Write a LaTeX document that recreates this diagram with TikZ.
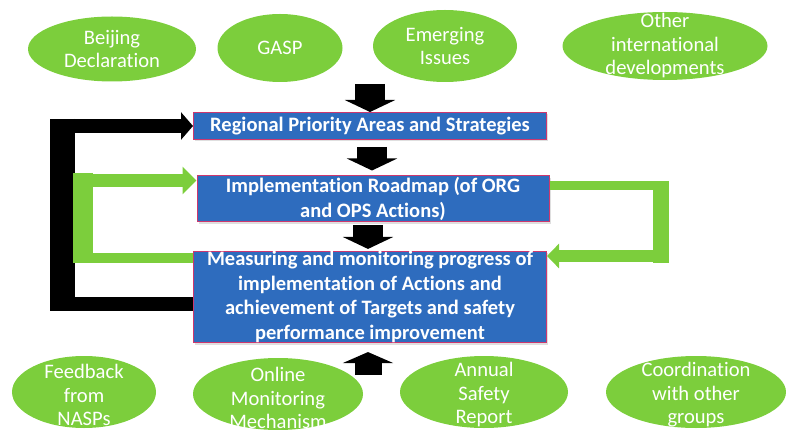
\documentclass[tikz,border=0pt]{standalone}
\usepackage{fontspec}
\setmainfont[Ligatures=NoCommon]{Carlito}
\usepackage{tikz}
\usetikzlibrary{arrows.meta,shapes,positioning,shadows}
\definecolor{sgblue}{RGB}{46,108,190}
\definecolor{sgpink}{RGB}{205,55,110}
\definecolor{sggreen}{RGB}{124,206,60}
\tikzstyle{stagebox} = [rectangle, minimum width=353pt, fill=sgblue, draw=sgpink, line width=1pt, text=white, align=center, inner sep=0pt, font=\bfseries\fontsize{20.5}{24.5}\selectfont, drop shadow={shadow xshift=1.5pt, shadow yshift=-2pt, opacity=0.25}]
\tikzstyle{inputoval} = [ellipse, fill=sggreen, inner sep=0pt]
\tikzstyle{ovaltext} = [text=white, align=center, font=\fontsize{20.6}{23.5}\selectfont]
\tikzstyle{blockdown} = [line width=30pt, -{Triangle[length=12pt,width=50pt]}, black]
\tikzstyle{fbgreen} = [draw=sggreen]
\tikzstyle{fbblack} = [draw=black]

\begin{document}
\begin{tikzpicture}[x=1pt, y=-1pt]
\useasboundingbox (0,0) rectangle (786,430);

% Inputs at the top
\node (beijing) [inputoval, minimum width=168pt, minimum height=65pt, label={[ovaltext]center:Beijing\\Declaration}] at (112,49) {};
\node (gasp) [inputoval, minimum width=125pt, minimum height=68pt, label={[ovaltext]center:GASP}] at (280,48) {};
\node (emerging) [inputoval, minimum width=144pt, minimum height=72pt, label={[ovaltext]center:Emerging\\Issues}] at (445,46) {};
\node (otherdev) [inputoval, minimum width=205pt, minimum height=68pt, label={[ovaltext]center:Other\\international\\developments}] at (665,46) {};

% The three stages
\node (priority) [stagebox, minimum height=27pt] at (370,126) {Regional Priority Areas and Strategies};
\node (roadmap) [stagebox, below of=priority, node distance=73pt, xshift=3pt, minimum width=352pt, minimum height=46pt] {Implementation Roadmap (of ORG\\and OPS Actions)};
\node (monitor) [stagebox, below of=roadmap, node distance=98pt, xshift=-3pt, minimum height=90pt] {Measuring and monitoring progress of\\implementation of Actions and\\achievement of Targets and safety\\performance improvement};

% Inputs at the bottom
\node (feedback) [inputoval, minimum width=144pt, minimum height=72pt, label={[ovaltext, yshift=-3pt]center:Feedback\\from\\NASPs}] at (84,392) {};
\node (online) [inputoval, minimum width=170pt, minimum height=72pt, label={[ovaltext, yshift=-4pt]center:Online\\Monitoring\\Mechanism}] at (278,394) {};
\node (annual) [inputoval, minimum width=168pt, minimum height=72pt, label={[ovaltext, yshift=-3pt]center:Annual\\Safety\\Report}] at (484,392) {};
\node (coord) [inputoval, minimum width=180pt, minimum height=72pt, label={[ovaltext, yshift=-3pt]center:Coordination\\with other\\groups}] at (696,392) {};

% Block arrows down the middle
\coordinate (topin) at (370,84);
\coordinate (botin) at (368,375);
\draw[blockdown] (topin) -- (priority.north);
\draw[blockdown, shorten <=7pt, shorten >=5pt] ([xshift=2pt]priority.south) -- ([xshift=-1pt]roadmap.north);
\draw[blockdown, shorten <=3pt, shorten >=2pt] ([xshift=-5pt]roadmap.south) -- ([xshift=-2pt]monitor.north);
\draw[blockdown, line width=27pt, -{Triangle[length=11pt,width=50pt]}, shorten >=9pt] (botin) -- ([xshift=-2pt]monitor.south);

% Black loop back to the priorities
\coordinate (bl) at (50,0);
\draw[fbblack, line width=14pt, {Triangle[length=12pt,width=27pt]}-] (priority.west) -- (priority.west -| bl);
\draw[fbblack, line width=14pt] ([yshift=-7pt]monitor.west) -- ([yshift=-7pt]monitor.west -| bl);
\draw[fbblack, line width=25pt] ([xshift=12.5pt, yshift=7pt]priority.west -| bl) -- ([xshift=12.5pt, yshift=-14pt]monitor.west -| bl);

% Green loop on the left
\coordinate (gl) at (73,0);
\draw[fbgreen, line width=13pt, {Triangle[length=14pt,width=27pt]}-] ([yshift=18.5pt]roadmap.west) -- ([yshift=18.5pt]roadmap.west -| gl);
\draw[fbgreen, line width=10pt] ([yshift=39pt]monitor.west) -- ([yshift=39pt]monitor.west -| gl);
\draw[fbgreen, line width=20pt] ([xshift=10pt, yshift=26pt]roadmap.west -| gl) -- ([xshift=10pt, yshift=34pt]monitor.west -| gl);

% Green loop on the right
\coordinate (gr) at (669,0);
\draw[fbgreen, line width=9pt] ([yshift=13.5pt]roadmap.east) -- ([yshift=13.5pt]roadmap.east -| gr);
\draw[fbgreen, line width=12pt, {Triangle[length=12pt,width=24pt]}-] ([yshift=41pt]monitor.east) -- ([yshift=41pt]monitor.east -| gr);
\draw[fbgreen, line width=16pt] ([xshift=-8pt, yshift=18pt]roadmap.east -| gr) -- ([xshift=-8pt, yshift=34pt]monitor.east -| gr);
\end{tikzpicture}
\end{document}
